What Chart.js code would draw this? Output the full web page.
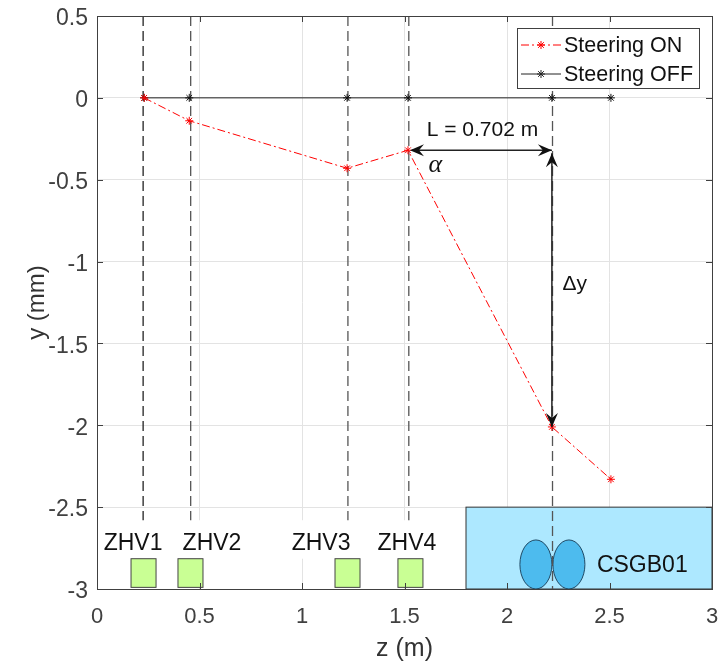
<!DOCTYPE html>
<html>
<head>
<meta charset="utf-8">
<title>Steering</title>
<script src="https://cdn.jsdelivr.net/npm/chart.js"></script>
<style>
html, body { margin: 0; padding: 0; background: #fff; }
canvas { display: block; }
</style>
</head>
<body>
<canvas id="chart" width="722" height="664"></canvas>
<script>
// data
const zOn = [0.23, 0.45, 1.22, 1.517, 2.219, 2.507];
const yOn = [0, -0.14, -0.43, -0.32, -2.01, -2.33];
const zOff = [0.23, 0.45, 1.22, 1.517, 2.219, 2.507];
const yOff = [0, 0, 0, 0, 0, 0];
const xTicks = [0, 0.5, 1, 1.5, 2, 2.5, 3];
const yTicks = [0.5, 0, -0.5, -1, -1.5, -2, -2.5, -3];

const guideZ = [0.225, 0.457, 1.224, 1.521, 2.222];
const guideEnd = [-2.58, -2.58, -2.58, -2.58, -3];
const guideColors = ["#222222", "#555555", "#555555", "#555555", "#555555"];

const magnetNames = ["ZHV1", "ZHV2", "ZHV3", "ZHV4"];
const magnetFrom = [0.166, 0.395, 1.161, 1.468];
const magnetTo = [0.288, 0.517, 1.283, 1.59];
const magnetLabelZ = [0.176, 0.561, 1.093, 1.512];

const panel = { z0: 1.8, z1: 3, y0: -3, y1: -2.5, label: "CSGB01" };
const ellipseZ = [2.141, 2.302];

const font = '"Liberation Sans", Arial, sans-serif';

function pts(xs, ys) {
  return xs.map((x, i) => ({ x: x, y: ys[i] }));
}

// dashed vertical guides
const guideSets = guideZ.map((z, i) => ({
  label: "guide" + i,
  data: [{ x: z, y: 0.5 }, { x: z, y: guideEnd[i] }],
  showLine: true,
  borderColor: guideColors[i],
  borderWidth: 1.3,
  borderDash: [10, 5],
  pointRadius: 0,
  order: 5
}));

function arrowHead(ctx, x, y, dx, dy) {
  const len = 14, w = 6, notch = 9;
  ctx.beginPath();
  ctx.moveTo(x, y);
  ctx.lineTo(x - dx * len + dy * w, y - dy * len + dx * w);
  ctx.lineTo(x - dx * notch, y - dy * notch);
  ctx.lineTo(x - dx * len - dy * w, y - dy * len - dx * w);
  ctx.closePath();
  ctx.fill();
}

const backdrop = {
  id: "backdrop",
  beforeDatasetsDraw(chart) {
    const ctx = chart.ctx, X = chart.scales.x, Y = chart.scales.y;
    ctx.save();
    // white box behind the magnet names hides the grid
    ctx.fillStyle = "#ffffff";
    ctx.fillRect(X.left + 1, Y.getPixelForValue(-2.58), X.getPixelForValue(1.8) - X.left, Y.getPixelForValue(-2.815) - Y.getPixelForValue(-2.58));
    ctx.fillStyle = "#ade8ff";
    ctx.strokeStyle = "#333333";
    ctx.lineWidth = 1;
    const px = X.getPixelForValue(panel.z0), py = Y.getPixelForValue(panel.y1);
    ctx.fillRect(px, py, X.getPixelForValue(panel.z1) - px, Y.getPixelForValue(panel.y0) - py);
    ctx.strokeRect(px, py, X.getPixelForValue(panel.z1) - px, Y.getPixelForValue(panel.y0) - py);
    ellipseZ.forEach(z => {
      ctx.beginPath();
      ctx.ellipse(X.getPixelForValue(z), Y.getPixelForValue(-2.85), 16, 24.5, 0, 0, Math.PI * 2);
      ctx.fillStyle = "#4dbbee";
      ctx.fill();
      ctx.strokeStyle = "#1f4a66";
      ctx.stroke();
    });
    magnetFrom.forEach((z, i) => {
      const x0 = X.getPixelForValue(z), x1 = X.getPixelForValue(magnetTo[i]);
      const y0 = Y.getPixelForValue(-2.815), y1 = Y.getPixelForValue(-2.99);
      ctx.fillStyle = "#c9ff94";
      ctx.fillRect(x0, y0, x1 - x0, y1 - y0);
      ctx.strokeStyle = "#444444";
      ctx.strokeRect(x0, y0, x1 - x0, y1 - y0);
    });
    ctx.restore();
  }
};

const overlay = {
  id: "overlay",
  afterDatasetsDraw(chart) {
    const ctx = chart.ctx, X = chart.scales.x, Y = chart.scales.y;
    const a = chart.chartArea;
    ctx.save();

    // axes box and inward ticks
    ctx.strokeStyle = "#404040";
    ctx.lineWidth = 1;
    ctx.strokeRect(a.left + 0.5, a.top + 0.5, a.right - a.left, a.bottom - a.top);
    ctx.beginPath();
    xTicks.forEach(t => {
      const x = Math.round(X.getPixelForValue(t)) + 0.5;
      ctx.moveTo(x, a.bottom); ctx.lineTo(x, a.bottom - 6);
      ctx.moveTo(x, a.top); ctx.lineTo(x, a.top + 6);
    });
    yTicks.forEach(t => {
      const y = Math.round(Y.getPixelForValue(t)) + 0.5;
      ctx.moveTo(a.left, y); ctx.lineTo(a.left + 6, y);
      ctx.moveTo(a.right, y); ctx.lineTo(a.right - 6, y);
    });
    ctx.stroke();

    // text on the plot
    ctx.fillStyle = "#111111";
    ctx.textBaseline = "middle";
    ctx.textAlign = "center";
    ctx.font = "23px " + font;
    magnetNames.forEach((n, i) => {
      ctx.fillText(n, X.getPixelForValue(magnetLabelZ[i]), Y.getPixelForValue(-2.72));
    });
    ctx.fillText(panel.label, X.getPixelForValue(2.66), Y.getPixelForValue(-2.855));

    // L and delta y arrows
    const lx0 = X.getPixelForValue(zOn[3]), lx1 = X.getPixelForValue(zOn[4]);
    const ly = Y.getPixelForValue(yOn[3]), ly1 = Y.getPixelForValue(yOn[4]);
    ctx.strokeStyle = "#222222";
    ctx.fillStyle = "#111111";
    ctx.lineWidth = 1.5;
    ctx.beginPath();
    ctx.moveTo(lx0 + 4, ly); ctx.lineTo(lx1, ly);
    ctx.moveTo(lx1, ly + 3); ctx.lineTo(lx1, ly1);
    ctx.stroke();
    arrowHead(ctx, lx0 + 2, ly, -1, 0);
    arrowHead(ctx, lx1, ly, 1, 0);
    arrowHead(ctx, lx1, ly + 3, 0, -1);
    arrowHead(ctx, lx1, ly1, 0, 1);

    ctx.font = "21px " + font;
    ctx.fillText("L = 0.702 m", X.getPixelForValue(1.88), Y.getPixelForValue(-0.2));
    ctx.fillText("Δy", X.getPixelForValue(2.33), Y.getPixelForValue(-1.14));
    ctx.font = 'italic 26px "Liberation Serif", serif';
    ctx.fillText("α", X.getPixelForValue(1.65), Y.getPixelForValue(-0.41));

    // legend box
    const lb = { x: 517.5, y: 28.5, w: 182, h: 60 };
    ctx.fillStyle = "#ffffff";
    ctx.fillRect(lb.x, lb.y, lb.w, lb.h);
    ctx.strokeStyle = "#404040";
    ctx.lineWidth = 1;
    ctx.strokeRect(lb.x, lb.y, lb.w, lb.h);
    [
      { t: "Steering ON", c: "#ff0000", d: [8, 3, 2, 3], y: 45 },
      { t: "Steering OFF", c: "#222222", d: [], y: 74 }
    ].forEach(e => {
      ctx.strokeStyle = e.c;
      ctx.setLineDash(e.d);
      ctx.beginPath();
      ctx.moveTo(521, e.y); ctx.lineTo(561, e.y);
      ctx.stroke();
      ctx.setLineDash([]);
      ctx.beginPath();
      for (let k = 0; k < 4; k++) {
        const ang = k * Math.PI / 4, r = 4;
        ctx.moveTo(541 - r * Math.cos(ang), e.y - r * Math.sin(ang));
        ctx.lineTo(541 + r * Math.cos(ang), e.y + r * Math.sin(ang));
      }
      ctx.stroke();
      ctx.fillStyle = "#111111";
      ctx.textAlign = "left";
      ctx.font = "21.5px " + font;
      ctx.fillText(e.t, 564, e.y + 1);
    });
    ctx.restore();
  }
};

new Chart(document.getElementById("chart"), {
  type: "scatter",
  data: {
    datasets: guideSets.concat([
      {
        label: "Steering OFF",
        data: pts(zOff, yOff),
        showLine: true,
        borderColor: "#222222",
        borderWidth: 1,
        pointStyle: "star",
        pointRadius: 4,
        pointBorderColor: "#111111",
        pointBorderWidth: 1,
        order: 2
      },
      {
        label: "Steering ON",
        data: pts(zOn, yOn),
        showLine: true,
        borderColor: "#ff0000",
        borderWidth: 1,
        borderDash: [8, 3, 2, 3],
        pointStyle: "star",
        pointRadius: 4,
        pointBorderColor: "#ff0000",
        pointBorderWidth: 1,
        order: 1
      }
    ])
  },
  options: {
    responsive: false,
    animation: false,
    layout: { padding: { top: 16, right: 10, left: 0, bottom: 0 } },
    plugins: { legend: { display: false }, tooltip: { enabled: false } },
    scales: {
      x: {
        type: "linear",
        min: 0,
        max: 3,
        afterBuildTicks: s => { s.ticks = xTicks.map(v => ({ value: v })); },
        afterFit: s => { s.height = 75; s.paddingLeft = 0; s.paddingRight = 0; },
        grid: { color: "#e3e3e3", drawTicks: false },
        border: { display: false },
        ticks: { padding: 15, maxRotation: 0, color: "#404040", callback: v => String(v), font: { family: font, size: 22 } },
        title: { display: true, text: "z (m)", color: "#333333", padding: { top: 5, bottom: 0 }, font: { family: font, size: 25 } }
      },
      y: {
        type: "linear",
        min: -3,
        max: 0.5,
        afterBuildTicks: s => { s.ticks = yTicks.map(v => ({ value: v })); },
        afterFit: s => { s.width = 97; s.paddingTop = 0; s.paddingBottom = 0; },
        grid: { color: "#e3e3e3", drawTicks: false },
        border: { display: false },
        ticks: { padding: 9, labelOffset: 3, color: "#404040", callback: v => String(v), font: { family: font, size: 23 } },
        title: { display: true, text: "y (mm)", color: "#333333", padding: { top: 23, bottom: 0 }, font: { family: font, size: 24 } }
      }
    }
  },
  plugins: [backdrop, overlay]
});
</script>
</body>
</html>
